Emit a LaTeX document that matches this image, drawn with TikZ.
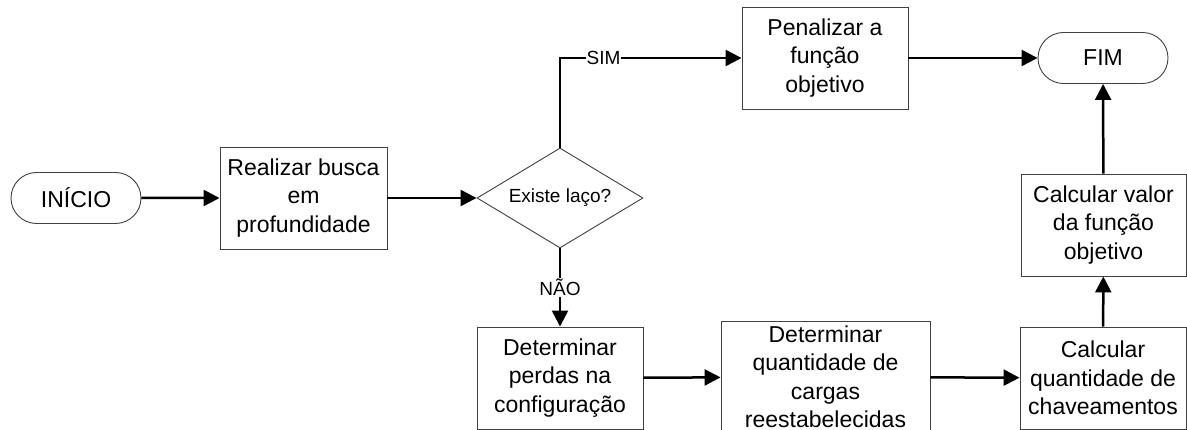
\documentclass[tikz,border=0pt]{standalone}
\usepackage{fontspec}
\setmainfont{Liberation Sans}
\usetikzlibrary{arrows.meta,shapes.geometric,shapes.misc}
\begin{document}
\begin{tikzpicture}[x=1pt,y=-1pt,
  box/.style={draw=black!75, line width=0.9pt, fill=white, rectangle,
    minimum width=166pt, minimum height=102pt, inner sep=0pt, align=center,
    font=\fontsize{23}{28.5}\selectfont},
  term/.style={draw=black!75, line width=0.9pt, fill=white, rounded rectangle,
    minimum width=130pt, minimum height=51pt, inner sep=0pt,
    font=\fontsize{23}{26}\selectfont},
  decision/.style={draw=black!75, line width=0.9pt, fill=white, diamond,
    aspect=1.66, minimum width=166pt, minimum height=100pt, inner sep=0pt,
    font=\fontsize{19}{22}\selectfont},
  flow/.style={line width=2.5pt, -{Triangle[length=16pt,width=16pt]}},
  tag/.style={fill=white, inner sep=1pt, font=\fontsize{19}{22}\selectfont}]

\useasboundingbox (0,0) rectangle (1187,430);

% steps
\node[term] (ini) at (76,198) {INÍCIO};
\node[box, minimum width=167pt] (busca) at (303.5,198) {Realizar busca\\em\\profundidade};
\node[decision] (laco) at (560,198) {Existe laço?};
\node[box] (pen) at (825,58) {Penalizar a\\função\\objetivo};
\node[term] (fim) at (1103,58) {FIM};
\node[box, minimum width=165pt] (valor) at (1103.5,225) {Calcular valor\\da função\\objetivo};
\node[box] (perdas) at (560,378) {Determinar\\perdas na\\configuração};
\node[box, minimum width=209pt, minimum height=112pt] (cargas) at (825.5,377)
  {Determinar\\quantidade de\\cargas\\reestabelecidas};
\node[box] (chav) at (1103,378) {Calcular\\quantidade de\\chaveamentos};

% connectors
\draw[flow] (ini) -- (busca);
\draw[flow] (busca) -- (laco);
\draw[flow] (laco.north) |- node[tag, pos=0.62] {SIM} (pen.west);
\draw[flow] (pen) -- (fim);
\draw[flow] (laco.south) -- node[tag] {NÃO} (perdas.north);
\draw[flow] (perdas) -- (cargas);
\draw[flow] (cargas) -- (chav);
\draw[flow] (chav) -- (valor);
\draw[flow] (valor) -- (fim);
\end{tikzpicture}
\end{document}
